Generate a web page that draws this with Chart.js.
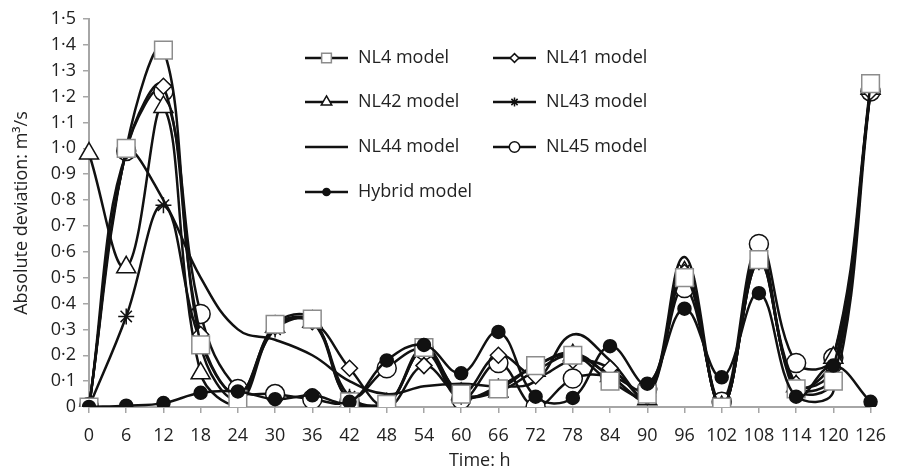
<!DOCTYPE html>
<html>
<head>
<meta charset="utf-8">
<script src="https://cdn.jsdelivr.net/npm/chart.js@4.4.1/dist/chart.umd.min.js"></script>
<style>
  html, body { margin: 0; padding: 0; background: #fff; }
  #wrap { width: 898px; height: 472px; }
</style>
</head>
<body>
<div id="wrap"><canvas id="myChart" width="898" height="472"></canvas></div>
<script>
// time steps (h)
const hours = [0, 6, 12, 18, 24, 30, 36, 42, 48, 54, 60, 66, 72, 78, 84, 90, 96, 102, 108, 114, 120, 126];

// absolute deviation, m3/s
const nl4    = [0, 1.00, 1.38, 0.24, 0.03, 0.32, 0.34, 0.02, 0.01, 0.23, 0.05, 0.07, 0.16, 0.20, 0.10, 0.05, 0.50, 0.00, 0.57, 0.07, 0.10, 1.25];
const nl41   = [0, 0.99, 1.24, 0.28, 0.05, 0.31, 0.33, 0.15, 0.00, 0.16, 0.05, 0.20, 0.12, 0.18, 0.15, 0.04, 0.52, 0.00, 0.57, 0.09, 0.15, 1.22];
const nl42   = [0.98, 0.54, 1.16, 0.13, 0.01, 0.31, 0.33, 0.02, 0.01, 0.22, 0.05, 0.06, 0.14, 0.20, 0.12, 0.03, 0.52, 0.00, 0.56, 0.08, 0.19, 1.23];
const nl43   = [0, 0.35, 0.78, 0.25, 0.05, 0.30, 0.33, 0.04, 0.01, 0.22, 0.04, 0.08, 0.16, 0.21, 0.12, 0.04, 0.53, 0.00, 0.56, 0.08, 0.12, 1.23];
const nl44   = [0, 0.98, 0.80, 0.50, 0.30, 0.26, 0.20, 0.10, 0.05, 0.08, 0.09, 0.08, 0.10, 0.28, 0.18, 0.04, 0.58, 0.00, 0.60, 0.05, 0.06, 1.22];
const nl45   = [0, 0.99, 1.22, 0.36, 0.07, 0.05, 0.03, 0.02, 0.15, 0.22, 0.03, 0.17, 0.00, 0.11, 0.12, 0.07, 0.46, 0.02, 0.63, 0.17, 0.19, 1.22];
const hybrid = [0, 0.005, 0.015, 0.055, 0.06, 0.03, 0.045, 0.02, 0.18, 0.24, 0.13, 0.29, 0.04, 0.035, 0.235, 0.09, 0.38, 0.115, 0.44, 0.04, 0.16, 0.02];

const seriesNames = ['NL4 model', 'NL41 model', 'NL42 model', 'NL43 model', 'NL44 model', 'NL45 model', 'Hybrid model'];

const FONT = "'Open Sans', 'DejaVu Sans', sans-serif";
const AXIS_GREY = '#a6a6a6';

function series(label, data, style, radius, extra) {
    return Object.assign({
        label: label,
        data: data,
        borderColor: '#111',
        borderWidth: 2.5,
        tension: 0.4,
        pointStyle: style,
        pointRadius: radius,
        pointBackgroundColor: '#fff',
        pointBorderColor: '#111',
        pointBorderWidth: 1.5,
        order: 1
    }, extra || {});
}

const datasets = [
    series(seriesNames[0], nl4, 'rect', 12.5, { pointBorderColor: '#8c8c8c' }),
    series(seriesNames[1], nl41, 'rectRot', 8),
    series(seriesNames[2], nl42, 'triangle', 11),
    series(seriesNames[3], nl43, 'star', 8),
    series(seriesNames[4], nl44, false, 0),
    series(seriesNames[5], nl45, 'circle', 9.5),
    series(seriesNames[6], hybrid, 'circle', 6.5, { pointBackgroundColor: '#111', order: 0 })
];

// legend drawn inside the plot, two columns
const legendSpots = [
    { x: 305, y: 58 },  { x: 493, y: 58 },
    { x: 305, y: 102 }, { x: 493, y: 102 },
    { x: 305, y: 147 }, { x: 493, y: 147 },
    { x: 305, y: 192 }
];

const insideLegend = {
    id: 'insideLegend',
    afterDatasetsDraw(chart) {
        const ctx = chart.ctx;
        ctx.save();
        chart.data.datasets.forEach((ds, i) => {
            const p = legendSpots[i];
            ctx.strokeStyle = '#111';
            ctx.lineWidth = 2.5;
            ctx.beginPath();
            ctx.moveTo(p.x, p.y);
            ctx.lineTo(p.x + 43, p.y);
            ctx.stroke();
            if (ds.pointStyle) {
                ctx.fillStyle = ds.pointBackgroundColor;
                ctx.strokeStyle = ds.pointBorderColor;
                ctx.lineWidth = 1.5;
                Chart.helpers.drawPoint(ctx, {
                    pointStyle: ds.pointStyle,
                    radius: ds.pointRadius * 0.55,
                    borderWidth: 1.5,
                    rotation: 0
                }, p.x + 21.5, p.y);
            }
            ctx.fillStyle = '#222';
            ctx.font = '18px ' + FONT;
            ctx.textBaseline = 'middle';
            ctx.textAlign = 'left';
            ctx.fillText(ds.label, p.x + 53, p.y);
        });
        ctx.restore();
    }
};

const tickFont = { family: FONT, size: 18 };

const ctx = document.getElementById('myChart').getContext('2d');
const chart = new Chart(ctx, {
    type: 'line',
    data: { labels: hours, datasets: datasets },
    options: {
        responsive: false,
        animation: false,
        devicePixelRatio: 1,
        layout: { padding: { top: 19, right: 17, left: 0, bottom: 0 } },
        plugins: {
            legend: { display: false },
            tooltip: { enabled: false }
        },
        scales: {
            x: {
                offset: false,
                grid: { display: true, drawOnChartArea: false, tickLength: 6, color: AXIS_GREY, lineWidth: 1.5 },
                border: { color: AXIS_GREY, width: 2 },
                ticks: { font: tickFont, color: '#222', padding: 12, maxRotation: 0, autoSkip: false },
                title: { display: true, text: 'Time: h', font: tickFont, color: '#222', padding: { top: 0, bottom: 0 } },
                afterFit: s => { s.height = 65; }
            },
            y: {
                min: 0,
                max: 1.5,
                grid: { display: true, drawOnChartArea: false, tickLength: 6, color: AXIS_GREY, lineWidth: 1.5 },
                border: { color: AXIS_GREY, width: 2 },
                ticks: {
                    stepSize: 0.1,
                    font: tickFont,
                    color: '#222',
                    padding: 7,
                    callback: v => v === 0 ? '0' : v.toFixed(1).replace('.', '\u00b7')
                },
                title: { display: true, text: 'Absolute deviation: m\u00b3/s', font: tickFont, color: '#222', padding: { top: 11, bottom: 0 } },
                afterFit: s => { s.width = 89; }
            }
        }
    },
    plugins: [insideLegend]
});
</script>
</body>
</html>
